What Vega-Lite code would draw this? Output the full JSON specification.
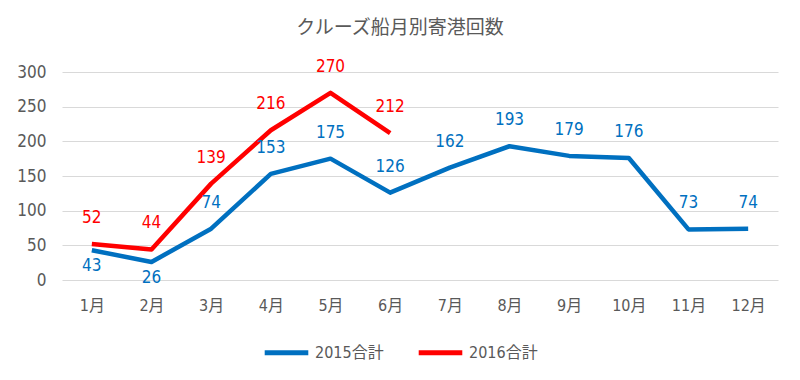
{
  "$schema": "https://vega.github.io/schema/vega-lite/v6.json",
  "width": 716,
  "height": 208,
  "autosize": {"type": "none"},
  "padding": {"left": 62, "top": 72, "right": 22, "bottom": 100},
  "background": "white",
  "title": {
    "text": "クルーズ船月別寄港回数",
    "font": "Noto Sans CJK JP",
    "fontSize": 19,
    "fontWeight": "normal",
    "color": "#595959",
    "anchor": "middle",
    "offset": 20,
    "dx": -20
  },
  "config": {
    "view": {"stroke": null},
    "font": "DejaVu Sans Condensed, Roboto, Noto Sans CJK JP"
  },
  "data": {
    "values": [
      {"month": "1月", "series": "2015合計", "value": 43},
      {"month": "2月", "series": "2015合計", "value": 26},
      {"month": "3月", "series": "2015合計", "value": 74},
      {"month": "4月", "series": "2015合計", "value": 153},
      {"month": "5月", "series": "2015合計", "value": 175},
      {"month": "6月", "series": "2015合計", "value": 126},
      {"month": "7月", "series": "2015合計", "value": 162},
      {"month": "8月", "series": "2015合計", "value": 193},
      {"month": "9月", "series": "2015合計", "value": 179},
      {"month": "10月", "series": "2015合計", "value": 176},
      {"month": "11月", "series": "2015合計", "value": 73},
      {"month": "12月", "series": "2015合計", "value": 74},
      {"month": "1月", "series": "2016合計", "value": 52},
      {"month": "2月", "series": "2016合計", "value": 44},
      {"month": "3月", "series": "2016合計", "value": 139},
      {"month": "4月", "series": "2016合計", "value": 216},
      {"month": "5月", "series": "2016合計", "value": 270},
      {"month": "6月", "series": "2016合計", "value": 212}
    ]
  },
  "encoding": {
    "x": {
      "field": "month",
      "type": "ordinal",
      "scale": {"type": "point", "padding": 0.5, "domain": ["1月","2月","3月","4月","5月","6月","7月","8月","9月","10月","11月","12月"]},
      "axis": {
        "title": null,
        "labelAngle": 0,
        "domain": false,
        "ticks": false,
        "labelFontSize": 16,
        "labelColor": "#595959",
        "labelFont": "DejaVu Sans Condensed, Roboto, Noto Sans CJK JP",
        "labelPadding": 17,
        "grid": false
      }
    },
    "y": {
      "field": "value",
      "type": "quantitative",
      "scale": {"domain": [0, 300]},
      "axis": {
        "title": null,
        "values": [0, 50, 100, 150, 200, 250, 300],
        "domain": false,
        "ticks": false,
        "labelFontSize": 17,
        "labelColor": "#595959",
        "labelFont": "DejaVu Sans Condensed, Roboto",
        "labelPadding": 16,
        "gridColor": "#d9d9d9",
        "gridWidth": 1.2
      }
    },
    "color": {
      "field": "series",
      "type": "nominal",
      "scale": {"domain": ["2015合計", "2016合計"], "range": ["#0070C0", "#FF0000"]},
      "legend": {
        "title": null,
        "orient": "none",
        "direction": "horizontal",
        "legendX": 200,
        "legendY": 256,
        "symbolType": "stroke",
        "symbolSize": 1900,
        "symbolStrokeWidth": 5,
        "labelFontSize": 16,
        "labelColor": "#595959",
        "labelFont": "DejaVu Sans Condensed, Roboto, Noto Sans CJK JP",
        "columnPadding": 24,
        "labelOffset": 4
      }
    }
  },
  "layer": [
    {
      "mark": {"type": "line", "strokeWidth": 4.5, "strokeJoin": "round"}
    },
    {
      "transform": [{"filter": "!(datum.series == '2015合計' && (datum.month == '1月' || datum.month == '2月'))"}],
      "mark": {"type": "text", "dy": -21, "baseline": "alphabetic", "fontSize": 17, "font": "DejaVu Sans Condensed, Roboto"},
      "encoding": {"text": {"field": "value", "type": "quantitative"}}
    },
    {
      "transform": [{"filter": "datum.series == '2015合計' && (datum.month == '1月' || datum.month == '2月')"}],
      "mark": {"type": "text", "dy": 21, "baseline": "alphabetic", "fontSize": 17, "font": "DejaVu Sans Condensed, Roboto"},
      "encoding": {"text": {"field": "value", "type": "quantitative"}}
    }
  ]
}
